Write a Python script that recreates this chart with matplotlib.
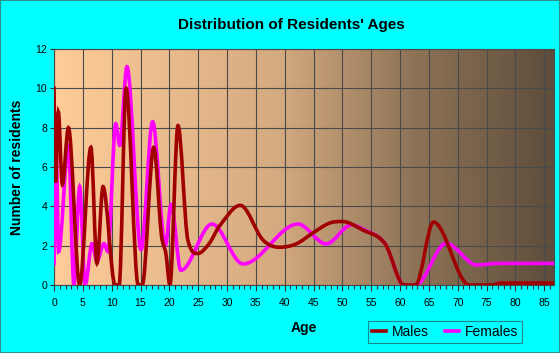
import matplotlib
matplotlib.use("Agg")
import matplotlib.pyplot as plt
import numpy as np
from matplotlib.path import Path
from matplotlib.patches import PathPatch, Rectangle
from matplotlib.lines import Line2D
from matplotlib.colors import LinearSegmentedColormap

# values
male_age = [0, 0.25, 0.75, 1.45, 2.5, 4.45, 6.4, 7.45, 8.5, 10.6, 11.3, 12.5, 14.6, 15.3,
            17.3, 18.6, 19.4, 20.1, 21.5, 23.2, 24.9, 26.9, 28.7, 32.3, 36.2, 39.1, 42.0,
            44.8, 47.7, 50.0, 53.5, 57.4, 60.7, 62.7, 65.8, 72.0, 76.0, 77.5, 86.7]
male_count = [10.1, 5.2, 8.8, 5.1, 8.0, 0, 7.0, 1.1, 5.0, 0, 0, 10.0, 0, 0,
              7.0, 2.6, 1.6, 0, 8.1, 2.3, 1.6, 2.1, 3.0, 4.05, 2.3, 1.92, 2.09,
              2.63, 3.14, 3.23, 2.8, 2.1, 0, 0, 3.2, 0, 0, 0.1, 0.1]

female_age = [0, 0.4, 0.8, 2.5, 3.45, 4.45, 5.4, 6.6, 7.45, 8.65, 9.35, 10.7, 11.4, 12.65,
              15.1, 17.1, 19.3, 20.3, 22.0, 27.4, 32.8, 42.3, 47.2, 51.6, 53.5, 57.4,
              60.7, 62.7, 68.0, 73.3, 77.0, 86.7]
female_count = [1.0, 6.6, 1.7, 7.1, 0, 5.0, 0, 2.1, 1.2, 2.1, 1.7, 8.2, 7.1, 11.1,
                1.8, 8.3, 2.0, 4.1, 0.75, 3.1, 1.07, 3.1, 2.09, 3.06, 2.85, 2.1,
                0, 0, 2.12, 1.02, 1.1, 1.1]

age_ticks = list(range(0, 90, 5))
count_ticks = list(range(0, 14, 2))


def smooth_path(xs, ys):
    # cubic hermite through the points, written as bezier segments
    xs = np.asarray(xs, float)
    ys = np.asarray(ys, float)
    n = len(xs)
    d = np.diff(ys) / np.diff(xs)
    m = np.zeros(n)
    m[0] = d[0]
    m[-1] = d[-1]
    for i in range(1, n - 1):
        if d[i - 1] * d[i] > 0:
            c = (ys[i + 1] - ys[i - 1]) / (xs[i + 1] - xs[i - 1])
            lim = 3 * min(abs(d[i - 1]), abs(d[i]))
            m[i] = np.sign(c) * min(abs(c), lim)
    verts = [(xs[0], ys[0])]
    codes = [Path.MOVETO]
    for i in range(n - 1):
        h = xs[i + 1] - xs[i]
        verts += [(xs[i] + h / 3, ys[i] + m[i] * h / 3),
                  (xs[i + 1] - h / 3, ys[i + 1] - m[i + 1] * h / 3),
                  (xs[i + 1], ys[i + 1])]
        codes += [Path.CURVE4] * 3
    return Path(verts, codes)


plt.rcParams['font.family'] = ['Liberation Sans', 'DejaVu Sans']

fig = plt.figure(figsize=(5.6, 3.53), dpi=100, facecolor='#00FFFF')
fig.patches.append(Rectangle((0, 0), 1, 1, transform=fig.transFigure, fill=False,
                             edgecolor='#2b8f8f', linewidth=1.5))
ax = fig.add_axes([54 / 560, 68 / 353, 500 / 560, 236 / 353])

xmax = 86.7
bg = LinearSegmentedColormap.from_list('bg', [
    (0.0, (255 / 255, 204 / 255, 153 / 255)),
    (0.45, (212 / 255, 170 / 255, 128 / 255)),
    (0.72, (142 / 255, 115 / 255, 87 / 255)),
    (1.0, (94 / 255, 77 / 255, 60 / 255))])
ax.imshow(np.linspace(0, 1, 256).reshape(1, -1), cmap=bg, aspect='auto',
          extent=[0, xmax, 0, 12], zorder=0)

ax.add_patch(PathPatch(smooth_path(female_age, female_count), fill=False,
                       edgecolor='#FF00FF', linewidth=2.6, zorder=3))
ax.add_patch(PathPatch(smooth_path(male_age, male_count), fill=False,
                       edgecolor='#A00000', linewidth=2.6, zorder=4))

ax.set_xlim(0, xmax)
ax.set_ylim(0, 12)
ax.set_xticks(age_ticks)
ax.set_xticks(range(0, 87), minor=True)
ax.set_yticks(count_ticks)
ax.grid(True, color='#4a4a4a', linewidth=0.8, zorder=1)
ax.set_axisbelow(False)
for s in ax.spines.values():
    s.set_color('#4a4a4a')
    s.set_linewidth(0.8)
    s.set_zorder(2)
ax.tick_params(axis='both', which='both', direction='out', color='#333333',
               labelsize=7.5, width=0.8)
ax.tick_params(axis='x', which='major', length=4, pad=5)
ax.tick_params(axis='x', which='minor', length=3)
ax.tick_params(axis='y', length=3, pad=2)

ax.set_xlabel('Age', fontsize=10, fontweight='bold', labelpad=10)
ax.set_ylabel('Number of residents', fontsize=10, fontweight='bold', labelpad=8)
fig.text(0.52, 0.93, "Distribution of Residents' Ages", ha='center', va='center',
         fontsize=11, fontweight='bold')

handles = [Line2D([], [], color='#A00000', linewidth=2.6),
           Line2D([], [], color='#FF00FF', linewidth=2.6)]
leg = fig.legend(handles, ['Males', 'Females'], loc='center',
                 bbox_to_anchor=(445 / 560, 1 - 332 / 353), ncol=2, fontsize=10,
                 frameon=True, fancybox=False, handlelength=1.0, handletextpad=0.4,
                 columnspacing=1.2, borderpad=0.3)
leg.get_frame().set_facecolor('#00FFFF')
leg.get_frame().set_edgecolor('#1f6f6f')
leg.get_frame().set_linewidth(0.8)

fig.savefig('out.png', dpi=100, facecolor=fig.get_facecolor())
